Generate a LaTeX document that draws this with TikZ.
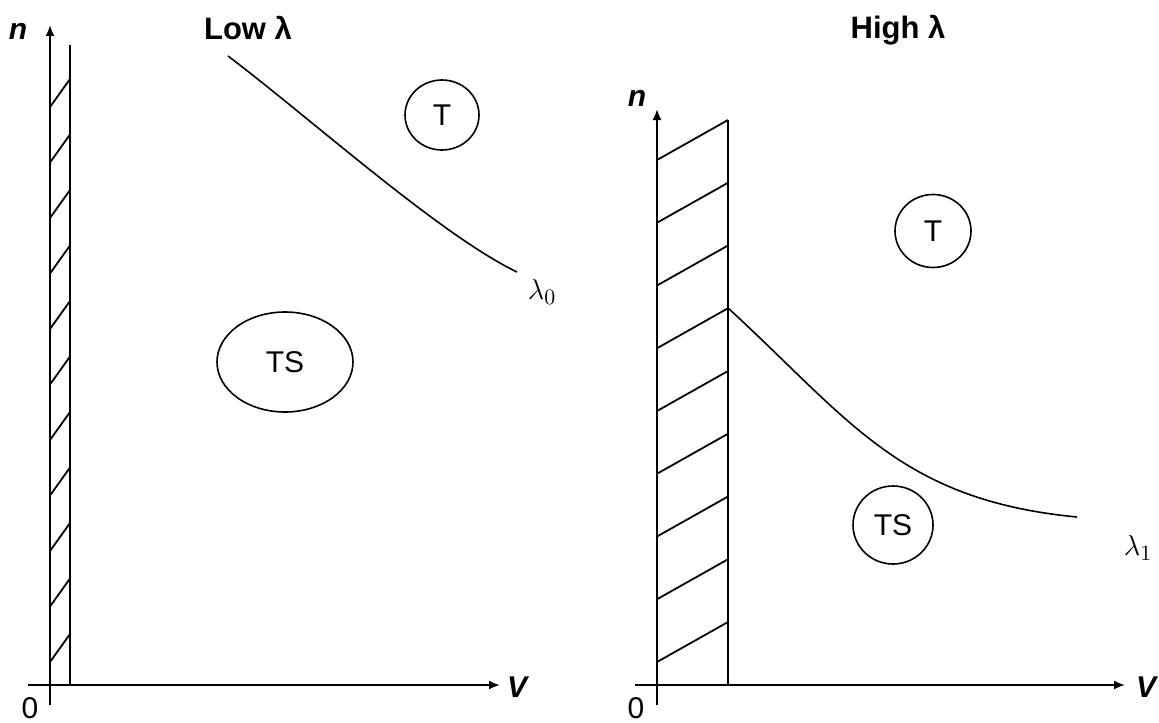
\documentclass[tikz,border=0pt]{standalone}
\usepackage{fontspec}
\setmainfont{Liberation Sans}
\usetikzlibrary{calc, positioning, arrows.meta, shapes.geometric}

\begin{document}
\begin{tikzpicture}[
        x=0.5pt, y=-0.5pt,
        font=\fontsize{15}{18}\selectfont,
        axis/.style={-{Latex[length=5.5pt, width=4.5pt]}, line width=1pt},
        wall/.style={line width=0.9pt},
        hatch/.style={line width=0.9pt},
        curve/.style={line width=0.8pt},
        region/.style={draw, ellipse, line width=0.8pt, inner sep=0pt},
        axlabel/.style={font=\fontsize{15}{18}\selectfont\bfseries\itshape},
        title/.style={font=\fontsize{15.5}{18}\selectfont\bfseries}
    ]
    \useasboundingbox (0,0) rectangle (1159,722);

    % ================= Low lambda =================
    \node[title] (lowT) at (248,28) {Low λ};

    % Axes
    \coordinate (nA0) at (50,705);
    \coordinate (nA1) at (50,25);
    \coordinate (vA0) at (28,685);
    \coordinate (vA1) at (500,685);
    \draw[axis] (nA0) -- (nA1);
    \draw[axis] (vA0) -- (vA1);
    \node[axlabel] (nA) at (18,31) {n};
    \node[axlabel] (vA) at (517,687) {V};
    \node (zA) at (30,708) {0};

    % Hatched strip
    \draw[wall] (70,685) -- (70,45);
    \foreach \k in {0,...,10} {
        \draw[hatch] (50,{107+55.5*\k}) -- ++(20,-28);
    }

    % Boundary curve
    \coordinate (cA0) at (228,56);
    \coordinate (cA1) at (517,272);
    \draw[curve] (cA0) .. controls (310,118) and (440,235) .. (cA1);
    \node (lamA) at (542,292) {$\lambda_0$};

    % Regions
    \node[region, minimum width=74*0.5pt, minimum height=70*0.5pt] (tA) at (442,115) {T};
    \node[region, minimum width=136*0.5pt, minimum height=100*0.5pt] (tsA) at (285,362) {TS};

    % ================= High lambda =================
    \node[title] (highT) at (898,30) {High λ};

    % Axes
    \coordinate (nB0) at (657,705);
    \coordinate (nB1) at (657,109);
    \coordinate (vB0) at (635,685);
    \coordinate (vB1) at (1125,685);
    \draw[axis] (nB0) -- (nB1);
    \draw[axis] (vB0) -- (vB1);
    \node[axlabel] (nB) at (637,98) {n};
    \node[axlabel] (vB) at (1146,687) {V};
    \node (zB) at (636,708) {0};

    % Hatched strip
    \draw[wall] (728,685) -- (728,120);
    \foreach \k in {0,...,8} {
        \draw[hatch] (657,{160+62.75*\k}) -- ++(71,-40);
    }

    % Boundary curve
    \coordinate (cB0) at (728,308);
    \coordinate (cB1) at (1077,517);
    \draw[curve] (cB0) .. controls (850,420) and (900,500) .. (cB1);
    \node (lamB) at (1138,548) {$\lambda_1$};

    % Regions
    \node[region, minimum width=76*0.5pt, minimum height=73*0.5pt] (tB) at (933,231) {T};
    \node[region, minimum width=80*0.5pt, minimum height=78*0.5pt] (tsB) at (893,525) {TS};

\end{tikzpicture}
\end{document}
